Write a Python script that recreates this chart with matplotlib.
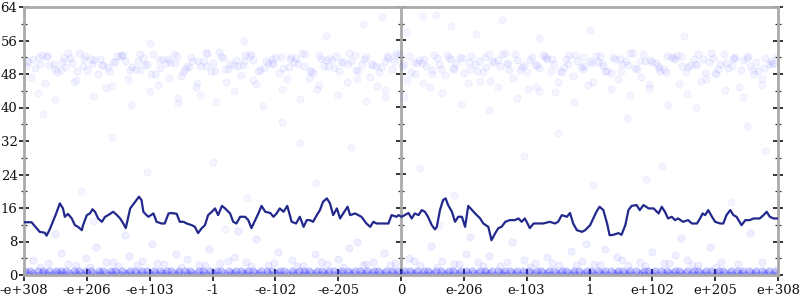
import matplotlib
matplotlib.use('Agg')
import matplotlib.pyplot as plt
from matplotlib.ticker import MultipleLocator, FixedLocator, NullFormatter

# ---------------- data ----------------
tick_pos = [-6, -5, -4, -3, -2, -1, 0, 1, 2, 3, 4, 5, 6]
tick_labels = ['-e+308', '-e+206', '-e+103', '-1', '-e-102', '-e-205', '0',
               'e-206', 'e-103', '1', 'e+102', 'e+205', 'e+308']

line_x = [-6.00,-5.88,-5.80,-5.75,-5.67,-5.64,-5.59,-5.53,-5.49,-5.43,
          -5.38,-5.35,-5.30,-5.24,-5.19,-5.14,-5.08,-5.06,-5.00,-4.95,
          -4.91,-4.87,-4.82,-4.76,-4.71,-4.66,-4.58,-4.52,-4.47,-4.42,
          -4.38,-4.34,-4.31,-4.23,-4.17,-4.13,-4.10,-4.05,-4.02,-3.94,
          -3.89,-3.81,-3.76,-3.70,-3.65,-3.57,-3.52,-3.46,-3.41,-3.33,
          -3.28,-3.23,-3.17,-3.12,-3.07,-3.01,-2.96,-2.91,-2.85,-2.80,
          -2.72,-2.67,-2.62,-2.56,-2.48,-2.43,-2.38,-2.32,-2.27,-2.22,
          -2.16,-2.08,-2.03,-1.98,-1.93,-1.87,-1.81,-1.74,-1.67,-1.61,
          -1.55,-1.50,-1.45,-1.40,-1.34,-1.29,-1.24,-1.18,-1.13,-1.08,
          -1.02,-0.97,-0.92,-0.85,-0.81,-0.73,-0.68,-0.63,-0.55,-0.49,
          -0.44,-0.39,-0.31,-0.25,-0.20,-0.15,-0.07,-0.04,0.01,0.06,
          0.12,0.17,0.22,0.28,0.33,0.38,0.43,0.49,0.54,0.57,
          0.62,0.67,0.71,0.75,0.81,0.86,0.91,0.97,1.02,1.07,
          1.13,1.18,1.26,1.31,1.39,1.44,1.50,1.55,1.60,1.66,
          1.73,1.81,1.87,1.92,1.97,2.00,2.05,2.11,2.18,2.26,
          2.37,2.45,2.50,2.56,2.64,2.69,2.74,2.80,2.88,2.93,
          3.01,3.06,3.11,3.16,3.22,3.28,3.32,3.38,3.46,3.51,
          3.57,3.62,3.67,3.75,3.80,3.86,3.94,4.02,4.10,4.15,
          4.20,4.25,4.31,4.36,4.41,4.49,4.57,4.63,4.71,4.76,
          4.80,4.84,4.89,4.95,5.00,5.08,5.13,5.18,5.24,5.29,
          5.34,5.42,5.48,5.55,5.61,5.66,5.71,5.77,5.82,5.87,
          5.93,6.00]
line_y = [12.6,12.6,11.2,10.3,10.1,9.4,10.9,13.1,14.6,17.1,
          15.9,13.9,14.6,13.5,11.9,11.5,10.7,11.9,14.3,14.7,
          15.7,15.1,13.5,12.7,13.9,14.3,15.1,14.3,13.5,12.3,
          11.2,13.9,15.9,17.5,18.7,17.9,15.1,14.3,13.9,14.7,
          12.7,12.3,12.3,14.7,14.8,14.6,12.7,12.7,12.3,11.9,
          11.5,10.0,11.2,11.9,14.3,15.1,15.9,14.3,16.5,15.9,
          14.7,12.7,12.3,13.9,13.9,13.1,11.2,13.1,14.7,16.5,
          15.1,14.8,13.9,14.7,15.9,15.1,16.5,12.7,12.3,13.9,
          11.5,13.1,13.1,12.7,14.3,15.5,17.5,18.3,17.1,14.3,
          15.9,13.5,14.7,16.3,14.3,14.7,14.3,13.9,12.3,11.5,
          12.7,12.3,12.3,12.3,12.3,14.3,13.9,14.3,13.9,14.3,
          14.8,13.5,14.7,14.3,15.5,15.1,13.9,11.9,10.9,11.5,
          15.5,17.9,18.3,16.7,15.1,12.7,13.9,13.9,11.5,16.5,
          15.5,14.7,13.5,12.3,11.5,8.3,10.0,11.2,11.5,12.7,
          13.1,13.1,13.5,12.7,13.5,12.7,11.2,12.3,12.3,12.3,
          12.7,12.3,12.7,14.3,13.9,14.8,12.3,10.7,10.3,10.7,
          11.9,13.5,15.1,16.3,15.5,12.3,9.5,9.6,10.0,9.6,
          11.9,15.5,16.5,16.7,15.5,16.7,15.9,15.9,14.7,16.3,
          15.1,13.5,13.9,13.1,13.5,12.7,13.1,12.3,12.3,13.5,
          14.7,14.3,15.5,13.9,12.7,12.3,12.3,14.3,15.5,14.3,
          13.9,11.9,13.1,13.1,13.5,13.5,13.5,14.3,15.1,13.9,
          13.5,13.5]

# dense strip of points at 1, 0.5 and 0
row1_x = [-5.98,-5.90,-5.77,-5.69,-5.60,-5.49,-5.41,-5.33,-5.20,-5.13,
          -5.02,-4.93,-4.81,-4.74,-4.62,-4.55,-4.44,-4.31,-4.24,-4.12,
          -4.05,-3.93,-3.84,-3.72,-3.66,-3.53,-3.44,-3.36,-3.22,-3.15,
          -3.04,-2.93,-2.86,-2.74,-2.63,-2.55,-2.44,-2.35,-2.23,-2.14,
          -2.05,-1.93,-1.86,-1.74,-1.63,-1.55,-1.46,-1.33,-1.25,-1.14,
          -1.06,-0.94,-0.85,-0.73,-0.66,-0.54,-0.43,-0.36,-0.24,-0.15,
          -0.04,0.06,0.14,0.25,0.36,0.43,0.55,0.64,0.76,0.83,
          0.95,1.04,1.13,1.26,1.33,1.45,1.54,1.66,1.73,1.85,
          1.94,2.03,2.16,2.23,2.35,2.44,2.56,2.63,2.75,2.84,
          2.96,3.03,3.14,3.25,3.34,3.46,3.53,3.65,3.74,3.86,
          3.93,4.05,4.14,4.24,4.36,4.43,4.55,4.66,4.73,4.85,
          4.94,5.06,5.13,5.25,5.34,5.45,5.54,5.65,5.74,5.85,5.96]
row05_x = [-5.93,-5.86,-5.72,-5.65,-5.52,-5.46,-5.38,-5.28,-5.18,-5.09,
           -4.99,-4.90,-4.79,-4.70,-4.60,-4.51,-4.40,-4.34,-4.21,-4.14,
           -4.01,-3.91,-3.81,-3.75,-3.62,-3.55,-3.41,-3.33,-3.25,-3.12,
           -3.01,-2.96,-2.82,-2.71,-2.66,-2.52,-2.46,-2.32,-2.26,-2.12,
           -2.01,-1.96,-1.82,-1.72,-1.66,-1.52,-1.43,-1.36,-1.22,-1.16,
           -1.02,-0.96,-0.82,-0.76,-0.62,-0.56,-0.46,-0.33,-0.26,-0.12,
           -0.02,0.04,0.17,0.23,0.33,0.46,0.53,0.67,0.73,0.86,
           0.93,1.06,1.16,1.23,1.36,1.42,1.57,1.63,1.76,1.83,
           1.96,2.06,2.13,2.26,2.33,2.47,2.53,2.66,2.73,2.87,
           2.93,3.06,3.17,3.23,3.37,3.43,3.56,3.63,3.77,3.83,
           3.96,4.03,4.17,4.26,4.33,4.46,4.53,4.63,4.76,4.83,
           4.97,5.03,5.16,5.23,5.37,5.43,5.57,5.63,5.77,5.83,5.93]
row0_x = [-5.95,-5.84,-5.74,-5.63,-5.55,-5.44,-5.36,-5.25,-5.16,-5.06,
          -4.97,-4.86,-4.77,-4.67,-4.58,-4.48,-4.37,-4.28,-4.17,-4.08,
          -3.98,-3.88,-3.78,-3.69,-3.58,-3.49,-3.39,-3.29,-3.18,-3.09,
          -2.98,-2.89,-2.79,-2.69,-2.59,-2.49,-2.39,-2.28,-2.19,-2.09,
          -1.98,-1.89,-1.79,-1.69,-1.58,-1.49,-1.39,-1.29,-1.19,-1.09,
          -0.98,-0.89,-0.79,-0.69,-0.59,-0.49,-0.39,-0.29,-0.19,-0.09,
          0.01,0.10,0.20,0.31,0.40,0.50,0.60,0.70,0.80,0.90,
          1.00,1.09,1.19,1.30,1.39,1.49,1.60,1.69,1.80,1.89,
          1.99,2.10,2.19,2.30,2.39,2.50,2.59,2.70,2.79,2.90,
          2.99,3.09,3.20,3.29,3.40,3.49,3.60,3.69,3.80,3.89,
          4.00,4.09,4.20,4.29,4.40,4.49,4.60,4.69,4.80,4.89,
          5.00,5.09,5.20,5.29,5.40,5.49,5.60,5.69,5.80,5.90,5.98]

low_x = [-5.85,-5.62,-5.41,-5.18,-5.02,-4.86,-4.70,-4.51,-4.33,-4.12,
         -3.96,-3.77,-3.58,-3.40,-3.21,-3.05,-2.88,-2.66,-2.47,-2.30,
         -2.12,-1.95,-1.73,-1.56,-1.37,-1.18,-1.00,-0.82,-0.61,-0.45,
         -0.27,-0.10,0.12,0.30,0.48,0.66,0.85,1.03,1.22,1.40,
         1.58,1.77,1.95,2.13,2.32,2.51,2.70,2.88,3.07,3.25,
         3.43,3.62,3.80,3.99,4.18,4.36,4.55,4.73,4.92,5.10]
low_y = [3.5,2.8,5.2,2.4,4.1,6.8,3.0,2.2,4.6,3.3,
         7.4,2.6,5.0,3.8,2.3,6.1,2.9,4.4,3.1,8.6,
         2.5,5.6,3.6,2.2,4.9,2.7,3.9,6.5,2.4,3.2,
         5.3,2.8,4.0,2.3,6.9,3.4,2.6,5.1,3.0,4.5,
         2.2,7.8,3.7,2.9,4.2,2.5,5.8,3.3,2.7,6.2,
         4.3,2.4,3.1,5.5,2.8,4.7,3.6,2.3,6.6,3.0]

low2_x = [-5.75,-5.30,-4.95,-4.58,-4.20,-3.88,-3.50,-3.12,-2.75,-2.38,
          -2.02,-1.66,-1.28,-0.92,-0.55,-0.18,0.20,0.57,0.93,1.31,
          1.68,2.05,2.41,2.79,3.16,3.52,3.89,4.27,4.63,5.01,
          5.37,5.74,-4.40,-2.60,-0.70,1.10,2.95,4.45,5.55,-5.50]
low2_y = [2.0,2.6,1.9,3.2,2.3,2.8,1.8,2.5,3.4,2.1,
          2.9,2.2,3.0,1.9,2.7,2.4,3.3,2.0,2.6,2.2,
          3.1,1.8,2.8,2.3,2.5,3.5,2.1,2.9,2.4,1.9,
          2.7,3.2,9.5,10.5,8.0,9.0,7.5,8.8,10.0,9.8]

mid_x = [-5.70,-5.10,-4.60,-4.05,-3.55,-3.00,-2.45,-1.90,-1.35,-0.80,
         -0.25,0.30,0.85,1.40,1.95,2.50,3.05,3.60,4.15,4.70,
         5.25,5.80,-4.90,-3.20,-1.60,0.60,2.20,3.90,5.50,-2.80]
mid_y = [38.5,20.0,33.0,24.5,41.0,27.0,18.5,36.5,22.0,30.5,
         42.5,25.5,19.0,39.5,28.5,34.0,21.5,37.5,26.0,40.0,
         17.5,29.5,13.0,43.0,31.5,12.0,44.0,23.0,35.5,11.0]

top_x = [-1.2,-0.6,-0.3,0.1,0.35,0.55,0.8,1.2,1.6,2.2,3.0,-2.5,4.5,-4.0]
top_y = [57,60,61.5,58,61.8,62,59.5,57.5,61,56.5,58.5,56,57,55.5]

upA_x = [-5.95,-5.83,-5.71,-5.60,-5.47,-5.36,-5.23,-5.12,-5.00,-4.88,
         -4.76,-4.64,-4.52,-4.40,-4.28,-4.16,-4.04,-3.92,-3.80,-3.68,
         -3.56,-3.44,-3.32,-3.20,-3.08,-2.96,-2.84,-2.72,-2.60,-2.48,
         -2.36,-2.24,-2.12,-2.00,-1.88,-1.76,-1.64,-1.52,-1.40,-1.28,
         -1.16,-1.04,-0.92,-0.80,-0.68,-0.56,-0.44,-0.32,-0.20,-0.08,
         0.04,0.16,0.28,0.40,0.52,0.64,0.76,0.88,1.00,1.12,
         1.24,1.36,1.48,1.60,1.72,1.84,1.96,2.08,2.20,2.32,
         2.44,2.56,2.68,2.80,2.92,3.04,3.16,3.28,3.40,3.52,
         3.64,3.76,3.88,4.00,4.12,4.24,4.36,4.48,4.60,4.72,
         4.84,4.96,5.08,5.20,5.32,5.44,5.56,5.68,5.80,5.92]
upA_y = [51.2,49.5,52.6,50.1,48.4,51.8,50.6,52.9,49.0,51.4,
         50.2,48.8,52.3,51.0,49.7,52.8,50.4,48.1,51.6,50.9,
         52.2,49.3,51.1,50.0,53.1,48.6,51.9,50.3,49.8,52.5,
         51.3,48.9,50.7,52.0,49.4,51.7,50.5,52.7,48.3,51.5,
         49.9,52.4,50.8,51.2,48.7,52.1,50.2,49.6,51.8,52.9,
         50.4,48.5,51.3,50.0,52.6,49.2,51.9,50.6,48.2,52.3,
         51.0,49.7,50.9,52.8,48.9,51.4,50.1,52.0,49.5,51.6,
         50.3,48.4,52.5,51.1,49.9,50.7,52.2,48.8,51.7,50.5,
         52.9,49.1,51.2,50.8,48.6,52.4,51.5,49.8,50.2,52.7,
         48.3,51.9,50.4,49.4,52.1,51.3,50.0,48.7,51.8,50.6]

upB_x = [-5.89,-5.76,-5.66,-5.53,-5.41,-5.30,-5.17,-5.06,-4.94,-4.82,
         -4.70,-4.58,-4.46,-4.34,-4.22,-4.10,-3.98,-3.86,-3.74,-3.62,
         -3.50,-3.38,-3.26,-3.14,-3.02,-2.90,-2.78,-2.66,-2.54,-2.42,
         -2.30,-2.18,-2.06,-1.94,-1.82,-1.70,-1.58,-1.46,-1.34,-1.22,
         -1.10,-0.98,-0.86,-0.74,-0.62,-0.50,-0.38,-0.26,-0.14,-0.02,
         0.10,0.22,0.34,0.46,0.58,0.70,0.82,0.94,1.06,1.18,
         1.30,1.42,1.54,1.66,1.78,1.90,2.02,2.14,2.26,2.38,
         2.50,2.62,2.74,2.86,2.98,3.10,3.22,3.34,3.46,3.58,
         3.70,3.82,3.94,4.06,4.18,4.30,4.42,4.54,4.66,4.78,
         4.90,5.02,5.14,5.26,5.38,5.50,5.62,5.74,5.86,5.97]
upB_y = [47.2,52.0,45.8,50.4,48.9,53.0,46.5,49.8,51.5,47.9,
         44.6,50.8,52.4,46.9,49.2,51.9,48.1,45.3,50.6,52.7,
         47.5,49.6,44.9,51.2,48.7,53.2,46.2,50.1,47.8,52.2,
         45.6,49.4,51.7,48.3,46.8,50.9,52.9,47.0,44.3,49.9,
         51.4,48.6,46.1,52.5,50.3,47.4,45.1,51.0,49.1,52.8,
         46.6,48.0,50.7,44.8,51.8,47.7,49.5,52.1,45.9,50.5,
         48.4,46.4,51.3,53.1,47.1,49.0,44.5,50.2,52.6,48.8,
         46.0,51.6,47.6,49.7,45.4,52.3,50.0,48.2,46.7,51.1,
         53.0,47.3,44.7,50.6,49.3,52.0,45.7,48.5,51.5,46.3,
         50.8,47.9,52.7,49.8,45.0,51.9,48.0,46.9,50.4,52.2]

upC_x = [-5.93,-5.78,-5.64,-5.50,-5.35,-5.20,-5.05,-4.90,-4.75,-4.60,
         -4.45,-4.30,-4.15,-4.00,-3.85,-3.70,-3.55,-3.40,-3.25,-3.10,
         -2.95,-2.80,-2.65,-2.50,-2.35,-2.20,-2.05,-1.90,-1.75,-1.60,
         -1.45,-1.30,-1.15,-1.00,-0.85,-0.70,-0.55,-0.40,-0.25,-0.10,
         0.05,0.20,0.35,0.50,0.65,0.80,0.95,1.10,1.25,1.40,
         1.55,1.70,1.85,2.00,2.15,2.30,2.45,2.60,2.75,2.90,
         3.05,3.20,3.35,3.50,3.65,3.80,3.95,4.10,4.25,4.40,
         4.55,4.70,4.85,5.00,5.15,5.30,5.45,5.60,5.75,5.90]
upC_y = [50.8,43.5,52.3,41.9,49.6,46.2,51.7,42.8,50.2,45.1,
         52.6,40.7,48.9,44.0,51.3,47.0,42.3,50.0,45.8,52.9,
         41.2,49.3,43.9,51.1,46.6,40.3,50.7,44.5,52.1,42.0,
         48.6,45.4,51.9,43.1,50.4,46.9,41.6,49.9,44.2,52.4,
         42.6,50.9,45.9,48.1,43.4,51.5,40.9,49.1,46.4,52.8,
         44.8,50.3,42.2,48.4,45.0,51.8,43.7,49.7,41.4,52.0,
         46.1,50.6,44.4,48.8,42.9,51.2,45.6,49.4,40.5,52.5,
         43.2,50.1,46.8,48.2,44.1,51.6,42.4,49.0,45.3,50.5]

upD_x = [-5.97,-5.86,-5.74,-5.63,-5.51,-5.39,-5.27,-5.15,-5.03,-4.92,
         -4.79,-4.67,-4.55,-4.43,-4.31,-4.19,-4.07,-3.95,-3.83,-3.71,
         -3.59,-3.47,-3.35,-3.23,-3.11,-2.99,-2.87,-2.75,-2.63,-2.51,
         -2.39,-2.27,-2.15,-2.03,-1.91,-1.79,-1.67,-1.55,-1.43,-1.31,
         -1.19,-1.07,-0.95,-0.83,-0.71,-0.59,-0.47,-0.35,-0.23,-0.11,
         0.01,0.13,0.25,0.37,0.49,0.61,0.73,0.85,0.97,1.09,
         1.21,1.33,1.45,1.57,1.69,1.81,1.93,2.05,2.17,2.29,
         2.41,2.53,2.65,2.77,2.89,3.01,3.13,3.25,3.37,3.49,
         3.61,3.73,3.85,3.97,4.09,4.21,4.33,4.45,4.57,4.69,
         4.81,4.93,5.05,5.17,5.29,5.41,5.53,5.65,5.77,5.89]
upD_y = [49.8,51.6,50.5,52.4,49.2,50.9,51.9,48.7,52.2,50.3,
         51.7,49.6,50.8,52.6,48.9,51.2,50.1,52.8,49.4,51.5,
         50.7,48.5,52.0,51.1,49.9,50.6,52.3,49.1,51.4,50.2,
         52.7,48.8,51.0,50.4,52.1,49.7,51.8,50.0,48.6,52.5,
         51.3,49.5,50.9,52.9,49.0,51.6,50.5,48.4,52.2,51.0,
         49.8,52.4,50.7,51.5,48.9,50.3,52.6,49.3,51.9,50.8,
         48.7,52.0,51.2,49.9,50.6,52.8,49.6,51.4,50.1,52.3,
         51.7,48.6,50.5,52.5,49.2,51.1,50.9,48.8,52.1,51.6,
         50.2,49.4,52.7,51.3,50.0,48.5,51.8,52.4,49.7,50.4,
         51.5,52.9,49.1,50.6,51.9,48.9,52.2,50.8,49.5,51.0]

# ---------------- style ----------------
SPINE = '#aaaaaa'
LINE = '#22288c'
DOT = '#2a2aff'
FONT = 'DejaVu Serif'

fig = plt.figure(figsize=(8, 3), dpi=100)
ax = fig.add_axes([24 / 800, 25 / 300, 754 / 800, 268 / 300])

faint = dict(s=26, marker='o', color=DOT, linewidths=0.8, zorder=2)
ax.scatter(upA_x, upA_y, alpha=0.055, **faint)
ax.scatter(upB_x, upB_y, alpha=0.05, **faint)
ax.scatter(upC_x, upC_y, alpha=0.045, **faint)
ax.scatter(upD_x, upD_y, alpha=0.055, **faint)
ax.scatter(mid_x, mid_y, alpha=0.045, **faint)
ax.scatter(top_x, top_y, alpha=0.045, **faint)
ax.scatter(low_x, low_y, alpha=0.07, **faint)
ax.scatter(low2_x, low2_y, alpha=0.07, **faint)
ax.scatter(row1_x, [1] * len(row1_x), alpha=0.2, **faint)
ax.scatter(row05_x, [0.5] * len(row05_x), alpha=0.15, **faint)
ax.scatter(row0_x, [0] * len(row0_x), alpha=0.2, **faint)

ax.plot(line_x, line_y, color=LINE, lw=1.6, zorder=4)

ax.set_xlim(-6, 6)
ax.set_ylim(0, 64)

for side in ['left', 'right', 'top', 'bottom']:
    ax.spines[side].set_color(SPINE)
    ax.spines[side].set_linewidth(2)

ax.xaxis.set_major_locator(FixedLocator(tick_pos))
ax.set_xticklabels(tick_labels)
ax.yaxis.set_major_locator(MultipleLocator(8))
ax.yaxis.set_minor_locator(MultipleLocator(4))

ax.tick_params(axis='y', which='major', direction='inout', length=7.5, width=1.1,
               color='black', left=True, right=True, labelleft=True,
               labelright=False, pad=1, labelsize=9.5, labelcolor='#111111')
ax.tick_params(axis='y', which='minor', direction='inout', length=4, width=0.9,
               color='#333333', left=True, right=True)
ax.tick_params(axis='x', which='major', direction='inout', length=8.5, width=1.1,
               color='black', bottom=True, top=False, pad=2, labelsize=9.5,
               labelcolor='#111111')
for lab in ax.get_xticklabels() + ax.get_yticklabels():
    lab.set_fontfamily(FONT)

# central vertical axis at x = 0
sec = ax.secondary_yaxis(0.5)
sec.yaxis.set_major_locator(MultipleLocator(8))
sec.yaxis.set_minor_locator(MultipleLocator(4))
sec.yaxis.set_major_formatter(NullFormatter())
sec.yaxis.set_minor_formatter(NullFormatter())
for side in ['left', 'right']:
    sec.spines[side].set_color(SPINE)
    sec.spines[side].set_linewidth(2)
sec.tick_params(axis='y', which='major', direction='inout', length=7.5, width=1.1,
                color='black', labelleft=False, labelright=False)
sec.tick_params(axis='y', which='minor', direction='inout', length=4, width=0.9,
                color='#333333')

fig.savefig('out.png', dpi=100, facecolor='white')
